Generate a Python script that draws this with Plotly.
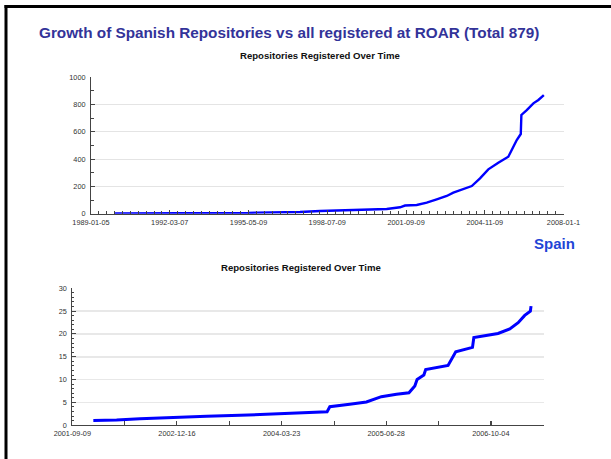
import plotly.graph_objects as go

W, H = 611, 459

# ---- Data: all repositories registered at ROAR (top chart) ----
all_dates = ["1989-12-24", "1991-03-23", "1991-03-24", "1993-06-01", "1995-05-01",
             "1995-09-07", "1996-09-01", "1997-06-04", "1998-03-25", "1999-06-08",
             "2000-05-16", "2000-11-29", "2001-06-13", "2001-08-25", "2002-02-13",
             "2002-07-10", "2002-12-04", "2003-04-30", "2003-08-05", "2003-12-30",
             "2004-05-02", "2004-08-31", "2004-12-31", "2005-05-27", "2005-10-21",
             "2005-12-10", "2006-02-22", "2006-04-22", "2006-05-01", "2006-07-19",
             "2006-10-24", "2007-01-06", "2007-03-27"]
all_counts = [1, 1, 3, 4, 5,
              8, 10, 12, 20, 26,
              29, 34, 47, 60, 64,
              81, 105, 130, 154, 179,
              203, 259, 325, 374, 418,
              467, 540, 584, 724, 760,
              809, 834, 870]

# ---- Data: Spanish repositories (bottom chart) ----
spain_dates = ["2001-12-11", "2002-03-24", "2002-07-05", "2002-10-16", "2003-04-26",
               "2003-09-21", "2004-02-14", "2004-07-11", "2004-10-10", "2004-10-22",
               "2004-12-05", "2005-01-18", "2005-04-02", "2005-06-07", "2005-08-13",
               "2005-10-07", "2005-11-02", "2005-11-12", "2005-12-12", "2005-12-20",
               "2006-03-29", "2006-05-02", "2006-07-15", "2006-07-21", "2006-11-05",
               "2006-12-27", "2007-02-02", "2007-03-03", "2007-03-28", "2007-03-31"]
spain_counts = [1.05, 1.14, 1.43, 1.65, 1.94,
                2.16, 2.45, 2.74, 2.96, 4.05,
                4.28, 4.57, 5.08, 6.25, 6.76,
                7.1, 8.6, 10.0, 11.0, 12.2,
                13.1, 16.1, 17.05, 19.2, 20.1,
                21.1, 22.45, 24.06, 25.0, 26.1]

# ---- Tick labels ----
top_tickvals = ["1989-01-05", "1992-03-07", "1995-05-09", "1998-07-09",
                "2001-09-09", "2004-11-09", "2008-01-10"]
top_ticktext = ["1989-01-05", "1992-03-07", "1995-05-09", "1998-07-09",
                "2001-09-09", "2004-11-09", "2008-01-1"]
bottom_tickvals = ["2001-09-09", "2002-12-16", "2004-03-23", "2005-06-28", "2006-10-04"]

main_title = "Growth of Spanish Repositories vs all registered at ROAR (Total 879)"
sub_title = "Repositories Registered Over Time"
country_label = "Spain"

DAY = 86400000
FONT = "Liberation Sans, Arial, sans-serif"
tickfont = dict(family=FONT, size=7.3, color="#333333")

fig = go.Figure()
fig.add_trace(go.Scatter(x=all_dates, y=all_counts, xaxis="x", yaxis="y",
                         mode="lines", line=dict(color="#0000ff", width=2.4),
                         showlegend=False, hoverinfo="x+y"))
fig.add_trace(go.Scatter(x=spain_dates, y=spain_counts, xaxis="x2", yaxis="y2",
                         mode="lines", line=dict(color="#0000ff", width=3),
                         showlegend=False, hoverinfo="x+y"))

def px_x(p):
    return p / W

def px_y(p):
    return 1 - p / H

axis_common = dict(showline=True, linecolor="#444444", linewidth=1, ticks="inside",
                   tickcolor="#444444", ticklen=4, tickfont=tickfont, zeroline=False,
                   fixedrange=True, automargin=False)

fig.update_layout(
    width=W, height=H, autosize=False,
    margin=dict(l=0, r=0, t=0, b=0, pad=0, autoexpand=False),
    paper_bgcolor="white", plot_bgcolor="white",
    showlegend=False,
    xaxis=dict(domain=[px_x(91), px_x(563.5)], anchor="y", type="date",
               range=["1989-01-05", "2008-01-10"],
               tickmode="array", tickvals=top_tickvals, ticktext=top_ticktext,
               showgrid=False, ticklabelstandoff=2,
               minor=dict(ticks="inside", ticklen=3, tickcolor="#444444",
                          tick0="1989-01-05", dtick=1157.5 * DAY / 10, showgrid=False),
               **axis_common),
    yaxis=dict(domain=[px_y(213.7), px_y(77.3)], anchor="x",
               range=[0, 1000], tickmode="linear", tick0=0, dtick=200,
               showgrid=True, gridcolor="#e4e4e4", gridwidth=1,
               ticklabelstandoff=3,
               minor=dict(ticks="inside", ticklen=3, tickcolor="#444444",
                          dtick=100, showgrid=False),
               **axis_common),
    xaxis2=dict(domain=[px_x(72.3), px_x(543.7)], anchor="y2", type="date",
                range=["2001-09-09", "2007-05-26"],
                tickmode="array", tickvals=bottom_tickvals, ticktext=bottom_tickvals,
                showgrid=False, ticklabelstandoff=1,
                minor=dict(ticks="inside", ticklen=4, tickcolor="#444444",
                           tick0="2001-09-09", dtick=231.5 * DAY, showgrid=False),
                **axis_common),
    yaxis2=dict(domain=[px_y(425.2), px_y(288.3)], anchor="x2",
                range=[0, 30], tickmode="linear", tick0=0, dtick=5,
                showgrid=True, gridcolor="#e8e8e8", gridwidth=1.5,
                ticklabelstandoff=3,
                minor=dict(ticks="inside", ticklen=2, tickcolor="#444444",
                           dtick=1, showgrid=False),
                **axis_common),
)

fig.add_annotation(text="<b>" + main_title + "</b>", xref="paper", yref="paper",
                   x=px_x(289), y=px_y(32), xanchor="center", yanchor="middle",
                   showarrow=False, font=dict(family=FONT, size=15.3, color="#333399"))
fig.add_annotation(text="<b>" + sub_title + "</b>", xref="paper", yref="paper",
                   x=px_x(320), y=px_y(56), xanchor="center", yanchor="middle",
                   showarrow=False, font=dict(family=FONT, size=9.6, color="#111111"))
fig.add_annotation(text="<b>" + sub_title + "</b>", xref="paper", yref="paper",
                   x=px_x(301), y=px_y(267), xanchor="center", yanchor="middle",
                   showarrow=False, font=dict(family=FONT, size=9.6, color="#111111"))
fig.add_annotation(text="<b>" + country_label + "</b>", xref="paper", yref="paper",
                   x=px_x(554), y=px_y(243), xanchor="center", yanchor="middle",
                   showarrow=False, font=dict(family=FONT, size=15, color="#1f45d6"))

# Black frame lines (top and left edges)
fig.add_shape(type="line", xref="paper", yref="paper",
              x0=px_x(4.5), x1=1.0, y0=px_y(6.5), y1=px_y(6.5),
              line=dict(color="black", width=3))
fig.add_shape(type="line", xref="paper", yref="paper",
              x0=px_x(6), x1=px_x(6), y0=px_y(5), y1=0,
              line=dict(color="black", width=3))

fig.write_html("out.html",
               config={"displayModeBar": False, "staticPlot": True},
               post_script="document.body.style.margin='0';"
                           "document.body.style.overflow='hidden';")
